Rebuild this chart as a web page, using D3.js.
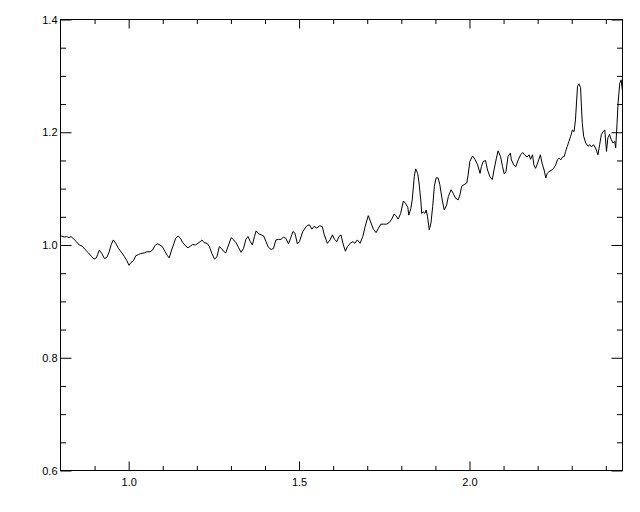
<!DOCTYPE html>
<html>
<head>
<meta charset="utf-8">
<script src="https://cdn.jsdelivr.net/npm/d3@7"></script>
<style>
  body { margin: 0; background: #fff; }
  text { font-family: "Liberation Sans", Arial, sans-serif; font-size: 11px; fill: #000; }
</style>
</head>
<body>
<svg id="chart" width="640" height="512"></svg>
<script>
// wavelength (micron) and normalised flux
const wave = [
  0.802, 0.812, 0.818, 0.825, 0.831, 0.838, 0.848, 0.855, 0.864, 0.872, 0.882, 0.892, 0.898, 0.905, 0.909,
  0.914, 0.921, 0.929, 0.936, 0.943, 0.949, 0.955, 0.962, 0.970, 0.980, 0.988, 0.994, 1.001, 1.007, 1.014,
  1.021, 1.029, 1.036, 1.046, 1.053, 1.063, 1.070, 1.077, 1.084, 1.092, 1.099, 1.107, 1.114, 1.119, 1.126,
  1.133, 1.138, 1.145, 1.152, 1.158, 1.166, 1.174, 1.181, 1.188, 1.196, 1.203, 1.210, 1.215, 1.222, 1.230,
  1.237, 1.244, 1.252, 1.259, 1.266, 1.272, 1.278, 1.285, 1.293, 1.301, 1.308, 1.315, 1.322, 1.330, 1.337,
  1.344, 1.350, 1.357, 1.363, 1.369, 1.374, 1.381, 1.389, 1.396, 1.403, 1.410, 1.418, 1.425, 1.432, 1.440,
  1.447, 1.454, 1.461, 1.469, 1.475, 1.482, 1.488, 1.495, 1.501, 1.511, 1.521, 1.530, 1.538, 1.544, 1.552,
  1.560, 1.568, 1.574, 1.583, 1.591, 1.598, 1.604, 1.611, 1.617, 1.623, 1.630, 1.636, 1.642, 1.650, 1.658,
  1.664, 1.671, 1.679, 1.687, 1.694, 1.703, 1.710, 1.718, 1.726, 1.733, 1.740, 1.747, 1.757, 1.765, 1.772,
  1.779, 1.784, 1.791, 1.798, 1.806, 1.812, 1.819, 1.822, 1.828, 1.832, 1.838, 1.842, 1.848, 1.852, 1.857,
  1.860, 1.864, 1.869, 1.873, 1.877, 1.882, 1.887, 1.892, 1.897, 1.902, 1.908, 1.913, 1.920, 1.926, 1.933,
  1.938, 1.946, 1.952, 1.959, 1.967, 1.972, 1.977, 1.984, 1.992, 1.996, 2.001, 2.009, 2.016, 2.024, 2.031,
  2.035, 2.040, 2.047, 2.053, 2.060, 2.067, 2.072, 2.079, 2.084, 2.091, 2.097, 2.102, 2.107, 2.113, 2.120,
  2.123, 2.130, 2.136, 2.143, 2.150, 2.156, 2.162, 2.169, 2.175, 2.179, 2.185, 2.189, 2.194, 2.198, 2.203,
  2.208, 2.213, 2.219, 2.224, 2.228, 2.233, 2.241, 2.247, 2.253, 2.258, 2.263, 2.268, 2.273, 2.278, 2.282,
  2.287, 2.292, 2.297, 2.302, 2.307, 2.311, 2.314, 2.317, 2.321, 2.326, 2.328, 2.331, 2.335, 2.341, 2.348,
  2.353, 2.358, 2.364, 2.370, 2.377, 2.382, 2.387, 2.392, 2.397, 2.402, 2.406, 2.411, 2.416, 2.421, 2.426,
  2.429, 2.433, 2.436, 2.441, 2.445, 2.449
];
const flux = [
  1.016, 1.014, 1.015, 1.013, 1.015, 1.011, 1.005, 1.000, 0.998, 0.992, 0.986, 0.979, 0.975, 0.977, 0.983,
  0.991, 0.985, 0.976, 0.978, 0.988, 1.001, 1.009, 1.003, 0.994, 0.986, 0.979, 0.973, 0.964, 0.969, 0.972,
  0.981, 0.983, 0.985, 0.986, 0.988, 0.988, 0.991, 0.999, 1.002, 1.000, 0.997, 0.988, 0.981, 0.977, 0.991,
  1.003, 1.012, 1.016, 1.012, 1.005, 0.999, 0.995, 0.998, 1.001, 1.000, 1.003, 1.006, 1.009, 1.004, 1.003,
  0.997, 0.985, 0.975, 0.979, 0.997, 0.994, 0.989, 0.986, 1.000, 1.013, 1.009, 1.004, 0.996, 0.987, 0.994,
  1.010, 1.015, 1.006, 1.000, 1.015, 1.025, 1.020, 1.018, 1.016, 1.006, 0.996, 0.992, 0.994, 1.009, 1.010,
  1.010, 1.014, 1.012, 1.002, 1.012, 1.024, 1.021, 1.002, 1.006, 1.024, 1.033, 1.036, 1.028, 1.033, 1.030,
  1.034, 1.033, 1.018, 1.003, 1.009, 1.018, 1.010, 1.006, 1.015, 1.018, 1.000, 0.989, 0.997, 1.003, 1.006,
  1.003, 1.009, 1.003, 1.015, 1.033, 1.052, 1.041, 1.028, 1.022, 1.030, 1.037, 1.037, 1.037, 1.040, 1.046,
  1.055, 1.052, 1.046, 1.056, 1.078, 1.074, 1.067, 1.053, 1.065, 1.080, 1.121, 1.135, 1.127, 1.110, 1.080,
  1.056, 1.059, 1.056, 1.062, 1.050, 1.027, 1.039, 1.068, 1.104, 1.119, 1.119, 1.107, 1.080, 1.062, 1.071,
  1.086, 1.098, 1.092, 1.083, 1.080, 1.089, 1.104, 1.107, 1.110, 1.124, 1.148, 1.158, 1.152, 1.142, 1.127,
  1.139, 1.148, 1.150, 1.133, 1.121, 1.116, 1.133, 1.154, 1.167, 1.157, 1.139, 1.126, 1.130, 1.157, 1.163,
  1.151, 1.142, 1.139, 1.151, 1.160, 1.164, 1.160, 1.156, 1.160, 1.152, 1.160, 1.142, 1.136, 1.142, 1.151,
  1.160, 1.145, 1.133, 1.119, 1.127, 1.130, 1.133, 1.136, 1.142, 1.151, 1.154, 1.151, 1.156, 1.157, 1.166,
  1.175, 1.184, 1.193, 1.204, 1.201, 1.222, 1.252, 1.281, 1.286, 1.279, 1.252, 1.216, 1.193, 1.181, 1.175,
  1.178, 1.174, 1.178, 1.172, 1.160, 1.178, 1.196, 1.201, 1.204, 1.166, 1.190, 1.196, 1.187, 1.181, 1.184,
  1.172, 1.216, 1.252, 1.287, 1.293, 1.273
];

const xDomain = [0.8, 2.449];
const yDomain = [0.6, 1.4];
const xMajor = [1.0, 1.5, 2.0];
const xMinor = [0.9, 1.1, 1.2, 1.3, 1.4, 1.6, 1.7, 1.8, 1.9, 2.1, 2.2, 2.3, 2.4];
const yMajor = [0.6, 0.8, 1.0, 1.2, 1.4];
const yMinor = [0.65, 0.7, 0.75, 0.85, 0.9, 0.95, 1.05, 1.1, 1.15, 1.25, 1.3, 1.35];

// plot box, in pixels
const box = { left: 60.5, right: 622.5, top: 19.5, bottom: 470.5 };
const svg = d3.select("#chart");

const x = d3.scaleLinear().domain(xDomain).range([box.left, box.right]);
const y = d3.scaleLinear().domain(yDomain).range([box.bottom, box.top]);

// axes on all four sides, ticks pointing inward
const fmt = d3.format(".1f");
const sides = [
  { gen: d3.axisBottom, scale: x, pos: `translate(0,${box.bottom})`, major: xMajor, minor: xMinor, len: 9, labels: true },
  { gen: d3.axisTop, scale: x, pos: `translate(0,${box.top})`, major: xMajor, minor: xMinor, len: 9, labels: false },
  { gen: d3.axisLeft, scale: y, pos: `translate(${box.left},0)`, major: yMajor, minor: yMinor, len: 11, labels: true },
  { gen: d3.axisRight, scale: y, pos: `translate(${box.right},0)`, major: yMajor, minor: yMinor, len: 11, labels: false }
];

sides.forEach((s) => {
  const gMin = svg.append("g").attr("transform", s.pos)
    .call(s.gen(s.scale).tickValues(s.minor).tickSizeInner(-s.len / 2).tickSizeOuter(0).tickFormat(""));
  const gMaj = svg.append("g").attr("transform", s.pos)
    .call(s.gen(s.scale).tickValues(s.major).tickSizeInner(-s.len).tickSizeOuter(0)
      .tickPadding(s.gen === d3.axisBottom ? 8 : 3)
      .tickFormat(s.labels ? fmt : ""));
  [gMin, gMaj].forEach((g) => {
    g.select(".domain").remove();
    g.selectAll("line").attr("stroke", "#000");
    g.selectAll("text").attr("font-family", null).attr("font-size", null);
  });
});

// frame
svg.append("rect")
  .attr("x", box.left).attr("y", box.top)
  .attr("width", box.right - box.left).attr("height", box.bottom - box.top)
  .attr("fill", "none").attr("stroke", "#000").attr("stroke-width", 1);

svg.append("clipPath").attr("id", "plotclip")
  .append("rect")
  .attr("x", box.left).attr("y", box.top)
  .attr("width", box.right - box.left).attr("height", box.bottom - box.top);

const line = d3.line()
  .x((d, i) => x(wave[i]))
  .y((d) => y(d));

svg.append("path")
  .datum(flux)
  .attr("clip-path", "url(#plotclip)")
  .attr("fill", "none")
  .attr("stroke", "#000")
  .attr("stroke-width", 1)
  .attr("d", line);
</script>
</body>
</html>
